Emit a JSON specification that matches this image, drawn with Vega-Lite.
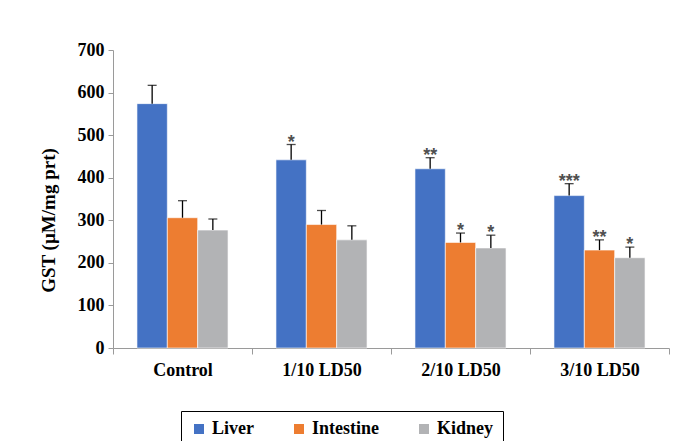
{
  "$schema": "https://vega.github.io/schema/vega-lite/v6.json",
  "autosize": {"type": "none"},
  "padding": {"left": 113, "top": 50, "right": 8, "bottom": 93},
  "width": 556,
  "height": 298,
  "background": "white",
  "config": {"view": {"stroke": null}},
  "data": {
    "values": [
      {"group": "Control", "organ": "Liver", "value": 574, "upper": 617, "sig": ""},
      {"group": "Control", "organ": "Intestine", "value": 306, "upper": 346, "sig": ""},
      {"group": "Control", "organ": "Kidney", "value": 277, "upper": 303, "sig": ""},
      {"group": "1/10 LD50", "organ": "Liver", "value": 442, "upper": 478, "sig": "*"},
      {"group": "1/10 LD50", "organ": "Intestine", "value": 290, "upper": 323, "sig": ""},
      {"group": "1/10 LD50", "organ": "Kidney", "value": 254, "upper": 287, "sig": ""},
      {"group": "2/10 LD50", "organ": "Liver", "value": 421, "upper": 447, "sig": "**"},
      {"group": "2/10 LD50", "organ": "Intestine", "value": 248, "upper": 270, "sig": "*"},
      {"group": "2/10 LD50", "organ": "Kidney", "value": 235, "upper": 265, "sig": "*"},
      {"group": "3/10 LD50", "organ": "Liver", "value": 358, "upper": 386, "sig": "***"},
      {"group": "3/10 LD50", "organ": "Intestine", "value": 230, "upper": 254, "sig": "**"},
      {"group": "3/10 LD50", "organ": "Kidney", "value": 212, "upper": 237, "sig": "*"}
    ]
  },
  "encoding": {
    "x": {
      "field": "group", "type": "nominal",
      "sort": ["Control", "1/10 LD50", "2/10 LD50", "3/10 LD50"],
      "scale": {"paddingInner": 0, "paddingOuter": 0},
      "axis": {
        "title": null, "labelAngle": 0, "domainColor": "#9a9a9a", "tickColor": "#9a9a9a",
        "tickBand": "extent", "tickSize": 6, "labelPadding": 7,
        "labelFont": "Liberation Serif", "labelFontWeight": "bold", "labelFontSize": 18, "labelColor": "black"
      }
    },
    "xOffset": {
      "field": "organ", "type": "nominal",
      "sort": ["Liver", "Intestine", "Kidney"],
      "scale": {"paddingInner": 0, "paddingOuter": 0.79}
    }
  },
  "layer": [
    {
      "mark": {"type": "bar", "stroke": "white", "strokeWidth": 0.6},
      "encoding": {
        "y": {
          "field": "value", "type": "quantitative",
          "scale": {"domain": [0, 700]},
          "axis": {
            "values": [0, 100, 200, 300, 400, 500, 600, 700], "grid": false,
            "domainColor": "#9a9a9a", "tickColor": "#9a9a9a", "tickSize": 5, "labelPadding": 4,
            "labelFont": "Liberation Serif", "labelFontWeight": "bold", "labelFontSize": 18, "labelColor": "black",
            "title": "GST (µM/mg prt)", "titleFont": "Liberation Serif", "titleFontWeight": "bold",
            "titleFontSize": 19, "titleColor": "black", "titlePadding": 19, "titleY": 170
          }
        },
        "color": {
          "field": "organ", "type": "nominal",
          "sort": ["Liver", "Intestine", "Kidney"],
          "scale": {"domain": ["Liver", "Intestine", "Kidney"], "range": ["#4472C4", "#ED7D31", "#B2B3B5"]},
          "legend": {
            "title": null, "orient": "none", "direction": "horizontal",
            "legendX": 68, "legendY": 361,
            "symbolType": "square", "symbolSize": 100, "symbolStrokeWidth": 0,
            "labelFont": "Liberation Serif", "labelFontWeight": "bold", "labelFontSize": 18, "labelColor": "black",
            "columnPadding": 36, "padding": 9, "strokeColor": "black", "labelOffset": 4
          }
        }
      }
    },
    {
      "mark": {"type": "rule", "color": "black", "strokeWidth": 1.3},
      "encoding": {
        "y": {"field": "value", "type": "quantitative"},
        "y2": {"field": "upper"}
      }
    },
    {
      "mark": {"type": "tick", "color": "black", "thickness": 1.3, "size": 9},
      "encoding": {
        "y": {"field": "upper", "type": "quantitative"}
      }
    },
    {
      "mark": {"type": "text", "font": "Liberation Sans", "fontSize": 18, "fontWeight": "bold", "color": "#505050", "baseline": "alphabetic", "dy": 3},
      "encoding": {
        "y": {"field": "upper", "type": "quantitative"},
        "text": {"field": "sig"}
      }
    }
  ]
}
